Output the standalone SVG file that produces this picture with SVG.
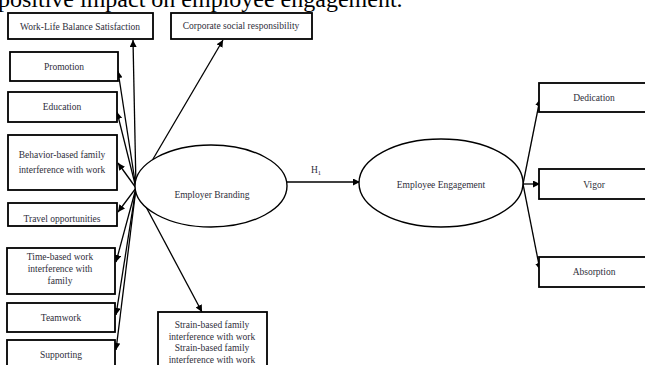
<svg xmlns="http://www.w3.org/2000/svg" width="645" height="365" viewBox="0 0 645 365" font-family="'Liberation Serif', 'Times New Roman', serif">
<defs>
<marker id="ah" viewBox="0 0 10 10" refX="10" refY="5" markerWidth="7" markerHeight="7" markerUnits="userSpaceOnUse" orient="auto">
<path d="M0,0 L10,5 L0,10 z" fill="#000"/>
</marker>
<style>
.box{fill:#fff;stroke:#000;stroke-width:1.8}
.ell{fill:#fff;stroke:#000;stroke-width:1.4}
.t{font-size:9.5px;fill:#2e2e3a;text-anchor:middle}
.c{stroke:#000;stroke-width:1.3;fill:none;marker-end:url(#ah)}
</style>
</defs>
<rect width="645" height="365" fill="#fff"/>
<text x="-2" y="7" font-size="24" fill="#000">positive impact on employee engagement.</text>

<g id="connectors">
<line class="c" x1="136" y1="188" x2="133" y2="40"/>
<line class="c" x1="136" y1="188" x2="223" y2="40"/>
<line class="c" x1="136" y1="188" x2="118" y2="71"/>
<line class="c" x1="136" y1="188" x2="117" y2="112"/>
<line class="c" x1="136" y1="188" x2="118" y2="163"/>
<line class="c" x1="136" y1="188" x2="118" y2="212"/>
<line class="c" x1="136" y1="188" x2="116" y2="262"/>
<line class="c" x1="136" y1="188" x2="116" y2="315"/>
<line class="c" x1="136" y1="188" x2="116" y2="350"/>
<line class="c" x1="136" y1="188" x2="202" y2="312"/>
<line class="c" x1="287" y1="182" x2="360" y2="182"/>
<line class="c" x1="523" y1="184" x2="540" y2="99"/>
<line class="c" x1="523" y1="184" x2="540" y2="184"/>
<line class="c" x1="523" y1="184" x2="540" y2="270"/>
</g>

<g id="wlb"><rect class="box" x="8" y="13" width="145" height="26"/><text class="t" x="80" y="30">Work-Life Balance Satisfaction</text></g>
<g id="csr"><rect class="box" x="171" y="13" width="141" height="26"/><text class="t" x="241" y="29">Corporate social responsibility</text></g>
<g id="promotion"><rect class="box" x="10" y="52" width="108" height="29"/><text class="t" x="64" y="70">Promotion</text></g>
<g id="education"><rect class="box" x="8" y="92" width="109" height="30"/><text class="t" x="62" y="110">Education</text></g>
<g id="behavior"><rect class="box" x="8" y="135" width="109" height="55"/><text class="t" x="62" y="158">Behavior-based family</text><text class="t" x="62" y="173">interference with work</text></g>
<g id="travel"><rect class="box" x="8" y="203" width="109" height="23"/><text class="t" x="62" y="222">Travel opportunities</text></g>
<g id="timebased"><rect class="box" x="7" y="248" width="108" height="46"/><text class="t" x="60" y="260">Time-based work</text><text class="t" x="60" y="272">interference with</text><text class="t" x="60" y="284">family</text></g>
<g id="teamwork"><rect class="box" x="7" y="303" width="108" height="29"/><text class="t" x="61" y="321">Teamwork</text></g>
<g id="supporting"><rect class="box" x="7" y="340" width="108" height="40"/><text class="t" x="61" y="358">Supporting</text></g>
<g id="strain"><rect class="box" x="158" y="312" width="109" height="60"/><text class="t" x="212" y="328">Strain-based family</text><text class="t" x="212" y="339.5">interference with work</text><text class="t" x="212" y="351">Strain-based family</text><text class="t" x="212" y="362.5">interference with work</text></g>

<g id="employer"><ellipse class="ell" cx="211" cy="186" rx="76" ry="41"/><text class="t" x="212" y="198">Employer Branding</text></g>
<g id="h1label"><text class="t" x="316" y="173">H<tspan font-size="6.5" dy="2">1</tspan></text></g>
<g id="engagement"><ellipse class="ell" cx="441" cy="183" rx="82" ry="44"/><text class="t" x="441" y="188">Employee Engagement</text></g>

<g id="dedication"><rect class="box" x="539" y="83" width="112" height="29"/><text class="t" x="594" y="101">Dedication</text></g>
<g id="vigor"><rect class="box" x="539" y="169" width="112" height="30"/><text class="t" x="594" y="188">Vigor</text></g>
<g id="absorption"><rect class="box" x="539" y="257" width="112" height="30"/><text class="t" x="594" y="275">Absorption</text></g>
</svg>
